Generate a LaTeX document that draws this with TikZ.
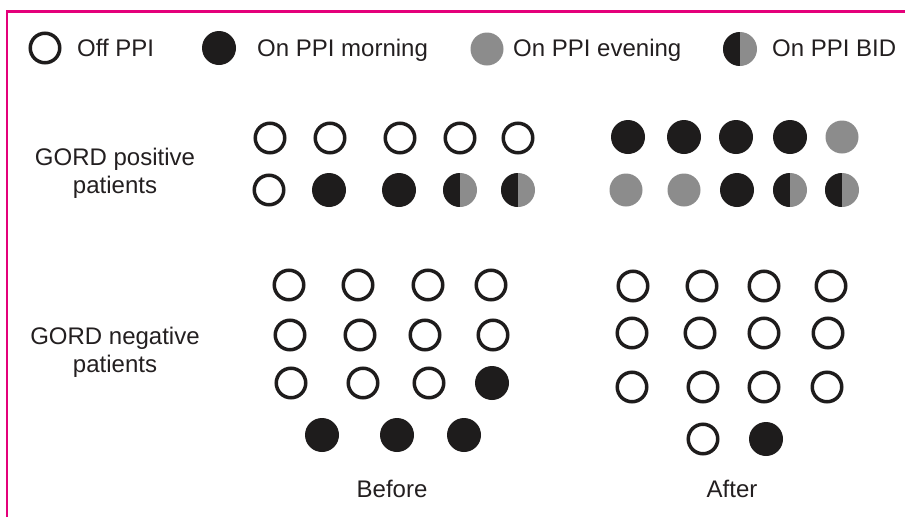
\documentclass[tikz,border=0pt]{standalone}
\usepackage{fontspec}
\setmainfont{Liberation Sans}
\definecolor{frameline}{RGB}{228,0,122}
\definecolor{eveninggrey}{RGB}{140,140,140}
\definecolor{morningblack}{RGB}{30,28,28}
\definecolor{labeltext}{RGB}{35,31,32}

\begin{document}
\begin{tikzpicture}[x=1pt, y=-1pt,
    offppi/.style={circle, draw=morningblack, line width=3.5pt, fill=white, minimum size=29.5pt, inner sep=0pt},
    onam/.style={circle, fill=morningblack, minimum size=34pt, inner sep=0pt},
    onpm/.style={circle, fill=eveninggrey, minimum size=33pt, inner sep=0pt},
    onbid/.style={circle, fill=eveninggrey, minimum size=34pt, inner sep=0pt,
      path picture={\fill[morningblack] (path picture bounding box.south west) rectangle (path picture bounding box.north);}},
    lbl/.style={text=labeltext, font=\fontsize{24}{28}\selectfont, inner sep=0pt}]
    \useasboundingbox (0,0) rectangle (905,517);

    % frame
    \coordinate (f0) at (7,517);
    \coordinate (f1) at (7,11.5);
    \coordinate (f2) at (905,11.5);
    \draw[frameline, line width=2.5pt] (f0) -- (f1) -- (f2);

    % legend
    \node[offppi] (k1) at (45,48) {};
    \node[lbl, anchor=base west] (t1) at (77,56.5) {Off PPI};
    \node[onam] (k2) at (219,48) {};
    \node[lbl, anchor=base west] (t2) at (257,56.5) {On PPI morning};
    \node[onpm] (k3) at (487,49) {};
    \node[lbl, anchor=base west] (t3) at (513,56.5) {On PPI evening};
    \node[onbid] (k4) at (740,49) {};
    \node[lbl, anchor=base west] (t4) at (772,56.5) {On PPI BID};

    % row labels
    \node[lbl, align=center] (gp) at (115,173) {GORD positive\\patients};
    \node[lbl, align=center] (gn) at (115,352) {GORD negative\\patients};

    % GORD positive, before
    \node[offppi] (pb1) at (270,138) {};
    \node[offppi] (pb2) at (330,138) {};
    \node[offppi] (pb3) at (400,138) {};
    \node[offppi] (pb4) at (460,138) {};
    \node[offppi] (pb5) at (518,138) {};
    \node[offppi] (pb6) at (269,190) {};
    \node[onam] (pb7) at (329,190) {};
    \node[onam] (pb8) at (399,190) {};
    \node[onbid] (pb9) at (460,190) {};
    \node[onbid] (pb10) at (518,190) {};

    % GORD positive, after
    \node[onam] (pa1) at (628,137) {};
    \node[onam] (pa2) at (684,137) {};
    \node[onam] (pa3) at (736,137) {};
    \node[onam] (pa4) at (790,137) {};
    \node[onpm] (pa5) at (842,137) {};
    \node[onpm] (pa6) at (626,190) {};
    \node[onpm] (pa7) at (684,190) {};
    \node[onam] (pa8) at (737,190) {};
    \node[onbid] (pa9) at (790,190) {};
    \node[onbid] (pa10) at (842,190) {};

    % GORD negative, before
    \node[offppi] (nb1) at (289,285) {};
    \node[offppi] (nb2) at (358,285) {};
    \node[offppi] (nb3) at (428,285) {};
    \node[offppi] (nb4) at (491,285) {};
    \node[offppi] (nb5) at (290,335) {};
    \node[offppi] (nb6) at (360,335) {};
    \node[offppi] (nb7) at (425,335) {};
    \node[offppi] (nb8) at (493,335) {};
    \node[offppi] (nb9) at (291,383) {};
    \node[offppi] (nb10) at (363,383) {};
    \node[offppi] (nb11) at (429,383) {};
    \node[onam] (nb12) at (492,383) {};
    \node[onam] (nb13) at (322,435) {};
    \node[onam] (nb14) at (397,435) {};
    \node[onam] (nb15) at (464,435) {};

    % GORD negative, after
    \node[offppi] (na1) at (633,286) {};
    \node[offppi] (na2) at (702,286) {};
    \node[offppi] (na3) at (764,286) {};
    \node[offppi] (na4) at (831,286) {};
    \node[offppi] (na5) at (632,333) {};
    \node[offppi] (na6) at (700,333) {};
    \node[offppi] (na7) at (764,333) {};
    \node[offppi] (na8) at (828,333) {};
    \node[offppi] (na9) at (632,387) {};
    \node[offppi] (na10) at (703,387) {};
    \node[offppi] (na11) at (764,387) {};
    \node[offppi] (na12) at (827,387) {};
    \node[offppi] (na13) at (703,439) {};
    \node[onam] (na14) at (766,439) {};

    %\foreach \i in {1,...,14} \fill[red] (na\i) circle (1pt);

    \node[lbl, anchor=base] (before) at (392,497) {Before};
    \node[lbl, anchor=base] (after) at (732,497) {After};
\end{tikzpicture}
\end{document}
